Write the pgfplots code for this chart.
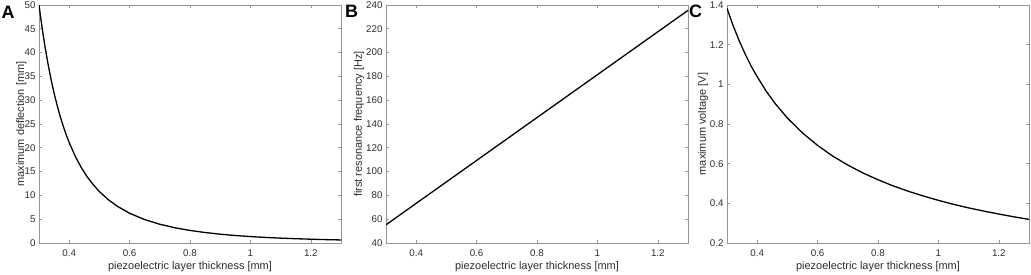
\documentclass[border=0pt]{standalone}
\usepackage{pgfplots}
\pgfplotsset{compat=1.18}
\usepackage{fontspec}
\setmainfont{Liberation Sans}
\definecolor{framegray}{RGB}{150,150,150}
\definecolor{labelgray}{RGB}{45,45,45}
\newcommand{\lblfont}{\fontsize{11}{13}\selectfont}
\newcommand{\tckfont}{\fontsize{9.8}{11}\selectfont}
\pgfplotsset{
 panel/.style={
  scale only axis, width=302bp, height=238bp, anchor=south west,
  xmin=0.3, xmax=1.3, xtick={0.4,0.6,0.8,1,1.2},
  tick align=inside, xtick pos=both, ytick pos=both, major tick length=3bp,
  axis line style={framegray, line width=0.6bp},
  every tick/.style={framegray, line width=0.6bp},
  /pgf/number format/assume math mode=true,
  xticklabel style={yshift=-3bp, font=\tckfont, text=labelgray},
  yticklabel style={font=\tckfont, text=labelgray},
  every axis x label/.style={at={(axis description cs:0.5,-0.0996)}, anchor=center, font=\lblfont, text=labelgray},
  xlabel={piezoelectric layer thickness [mm]},
  curve/.style={black, line width=1.3bp, no marks},
 }
}
\pgfplotstableread{
x y
0.30 50.00
0.31 45.32
0.32 41.20
0.33 37.57
0.34 34.35
0.35 31.49
0.36 28.94
0.37 26.65
0.38 24.60
0.39 22.76
0.40 21.09
0.42 18.22
0.44 15.85
0.46 13.87
0.48 12.21
0.50 10.80
0.53 9.07
0.56 7.69
0.60 6.25
0.65 4.92
0.70 3.94
0.75 3.20
0.80 2.64
0.85 2.20
0.90 1.85
0.95 1.57
1.00 1.35
1.05 1.17
1.10 1.02
1.15 0.90
1.20 0.80
1.25 0.71
1.30 0.64
}\deflection
\pgfplotstableread{
x y
0.30 55.3
0.55 100.35
0.80 145.4
1.05 190.45
1.30 235.5
}\frequency
\pgfplotstableread{
x y
0.30 1.383
0.32 1.297
0.34 1.221
0.36 1.153
0.38 1.092
0.40 1.038
0.43 0.965
0.46 0.902
0.50 0.830
0.55 0.755
0.60 0.692
0.65 0.638
0.70 0.593
0.75 0.553
0.80 0.519
0.85 0.488
0.90 0.461
0.95 0.437
1.00 0.415
1.05 0.395
1.10 0.377
1.15 0.361
1.20 0.346
1.25 0.332
1.30 0.319
}\voltage
\begin{document}
\begin{tikzpicture}
\path[use as bounding box] (0,0) rectangle (1031bp,275bp);
% Panel A
\begin{axis}[panel, at={(39bp,32bp)},
  ymin=0, ymax=50, ytick={0,5,...,50},
  ylabel={maximum deflection [mm]},
  every axis y label/.style={at={(axis description cs:-0.059,0.5)}, rotate=90, anchor=center, font=\lblfont, text=labelgray}]
\addplot[curve] table[x=x,y=y] {\deflection};
\end{axis}
% Panel B
\begin{axis}[panel, at={(386bp,32bp)},
  ymin=40, ymax=240, ytick={40,60,...,240},
  ylabel={first resonance frequency [Hz]},
  every axis y label/.style={at={(axis description cs:-0.089,0.5)}, rotate=90, anchor=center, font=\lblfont, text=labelgray}]
\addplot[curve] table[x=x,y=y] {\frequency};
\end{axis}
% Panel C
\begin{axis}[panel, at={(727bp,32bp)},
  ymin=0.2, ymax=1.4, ytick={0.2,0.4,0.6,0.8,1,1.2,1.4},
  ylabel={maximum voltage [V]},
  every axis y label/.style={at={(axis description cs:-0.079,0.5)}, rotate=90, anchor=center, font=\lblfont, text=labelgray}]
\addplot[curve] table[x=x,y=y] {\voltage};
\end{axis}
\node[anchor=base west, inner sep=0pt, font=\fontsize{18}{18}\bfseries\selectfont] at (1.5bp,256.7bp) {A};
\node[anchor=base west, inner sep=0pt, font=\fontsize{18}{18}\bfseries\selectfont] at (345bp,257.5bp) {B};
\node[anchor=base west, inner sep=0pt, font=\fontsize{18}{18}\bfseries\selectfont] at (689bp,257bp) {C};
\end{tikzpicture}
\end{document}
